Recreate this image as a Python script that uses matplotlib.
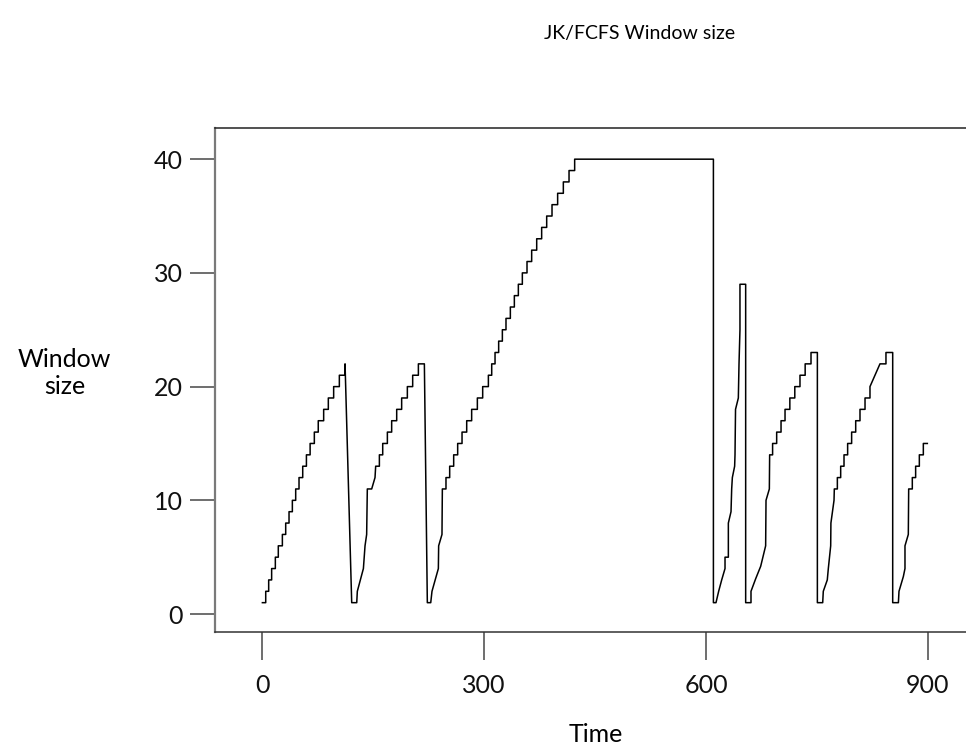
import matplotlib
matplotlib.use("Agg")
import matplotlib.pyplot as plt

plt.rcParams['font.family'] = ['Lato', 'DejaVu Sans']

# window size trace, one vertex per corner of the curve
TIME = [
    # first cycle
    0.5, 5, 5, 9, 9, 13, 13, 18, 18, 22, 22, 27.5, 27.5, 32, 32, 36.5, 36.5,
    41, 41, 45.5, 45.5, 50, 50, 55, 55, 60, 60, 65, 65, 70.7, 70.7, 76, 76,
    83.3, 83.3, 89.6, 89.6, 96.8, 96.8, 104.5, 104.5, 112.2, 112.2,
    121.2, 128,
    # second cycle
    128.8, 137, 139.2, 141.4, 142.3, 148.2, 152.7, 153.6, 158.6, 158.6,
    163.1, 163.1, 169.4, 169.4, 175.2, 175.2, 182, 182, 188.7, 188.7,
    196.4, 196.4, 203.6, 203.6, 211.3, 211.3, 219.4,
    223.4, 228,
    # third cycle, long climb to 40
    229.7, 238.3, 238.7, 243.2, 243.7, 248.6, 248.6, 253.6, 253.6, 259, 259,
    264.4, 264.4, 270.3, 270.3, 276.6, 276.6, 283.3, 283.3, 291, 291,
    298.2, 298.2, 305.9, 305.9, 310.4, 310.4, 314.9, 314.9, 319.8, 319.8,
    324.8, 324.8, 329.7, 329.7, 335.6, 335.6, 341, 341, 346.4, 346.4,
    351.8, 351.8, 358.1, 358.1, 364.4, 364.4, 371.2, 371.2, 377.9, 377.9,
    384.7, 384.7, 391.9, 391.9, 399.5, 399.5, 407.2, 407.2, 414.9, 414.9,
    422.5, 422.5, 610, 610, 613.5,
    # fourth cycle
    617.1, 621.2, 625.7, 625.7, 630.2, 630.2, 633.8, 634.7, 635.6, 638.7,
    639.2, 639.9, 643.7, 644.6, 645.9, 645.9, 653.6, 653.6, 660.8,
    # fifth cycle
    660.8, 667.1, 673.9, 680.6, 681.1, 685.6, 686, 690, 690, 695.5, 695.5,
    701.4, 701.4, 706.8, 706.8, 713.3, 713.3, 720, 720, 727, 727, 734, 734,
    741.9, 741.9, 750.5, 750.5, 757.7,
    # sixth cycle
    758.5, 763.9, 765.3, 768.5, 768.8, 773, 773.4, 777.5, 777.5, 782, 782,
    786.5, 786.5, 791.4, 791.4, 796.8, 796.8, 802.3, 802.3, 808.1, 808.1,
    814.9, 814.9, 821.6, 821.6, 835.1, 843.2, 843.2, 852.3, 852.3, 860,
    # seventh cycle
    860.8, 866.7, 868.9, 868.9, 873.4, 873.9, 878.8, 878.8, 883.3, 883.3,
    888.3, 888.3, 893.7, 893.7, 899.1,
]
WINDOW = [
    1, 1, 2, 2, 3, 3, 4, 4, 5, 5, 6, 6, 7, 7, 8, 8, 9,
    9, 10, 10, 11, 11, 12, 12, 13, 13, 14, 14, 15, 15, 16, 16, 17,
    17, 18, 18, 19, 19, 20, 20, 21, 21, 22,
    1, 1,
    2, 4, 6, 7, 11, 11, 12, 13, 13, 14,
    14, 15, 15, 16, 16, 17, 17, 18, 18, 19,
    19, 20, 20, 21, 21, 22, 22,
    1, 1,
    2, 4, 6, 7, 11, 11, 12, 12, 13, 13, 14,
    14, 15, 15, 16, 16, 17, 17, 18, 18, 19,
    19, 20, 20, 21, 21, 22, 22, 23, 23, 24,
    24, 25, 25, 26, 26, 27, 27, 28, 28, 29,
    29, 30, 30, 31, 31, 32, 32, 33, 33, 34,
    34, 35, 35, 36, 36, 37, 37, 38, 38, 39,
    39, 40, 40, 1, 1,
    2, 3, 4, 5, 5, 8, 9, 11, 12, 13,
    14, 18, 19, 22, 25, 29, 29, 1, 1,
    2, 3.1, 4.2, 6, 10, 11, 14, 14, 15, 15, 16,
    16, 17, 17, 18, 18, 19, 19, 20, 20, 21, 21, 22,
    22, 23, 23, 1, 1,
    2, 3, 4, 6, 8, 10, 11, 11, 12, 12, 13,
    13, 14, 14, 15, 15, 16, 16, 17, 17, 18,
    18, 19, 19, 20, 22, 22, 23, 23, 1, 1,
    2, 3.3, 4, 6, 7, 11, 11, 12, 12, 13,
    13, 14, 14, 15, 15,
]
X_TICKS = [0, 300, 600, 900]
Y_TICKS = [0, 10, 20, 30, 40]

fig = plt.figure(figsize=(9.66, 7.46), dpi=100)
ax = fig.add_axes([0.2226, 0.1528, 0.7867, 0.6756])

ax.plot(TIME, WINDOW, color='black', linewidth=1.1)

ax.set_xlim(-63.5, 963.5)
ax.set_ylim(-1.58, 42.74)
ax.set_xticks(X_TICKS)
ax.set_yticks(Y_TICKS)

ax.spines['left'].set_color('#7a7a7a')
ax.spines['left'].set_linewidth(1.6)
ax.spines['bottom'].set_color('#333333')
ax.spines['bottom'].set_linewidth(1.1)
for side in ['top', 'right']:
    ax.spines[side].set_color('#222222')
    ax.spines[side].set_linewidth(1.1)

ax.tick_params(axis='y', direction='out', length=18, width=1.2, color='#555555',
               pad=5, labelsize=18, labelcolor='#111111')
ax.tick_params(axis='x', direction='out', length=20, width=1.2, color='#555555',
               pad=10, labelsize=18, labelcolor='#111111')

fig.text(0.6625, 0.955, 'JK/FCFS Window size', ha='center', va='center',
         fontsize=14)
fig.text(0.067, 0.50, 'Window\nsize', ha='center', va='center', fontsize=18,
         linespacing=1.2)
fig.text(0.617, 0.015, 'Time', ha='center', va='center', fontsize=18)

plt.savefig('out.png', dpi=100)
